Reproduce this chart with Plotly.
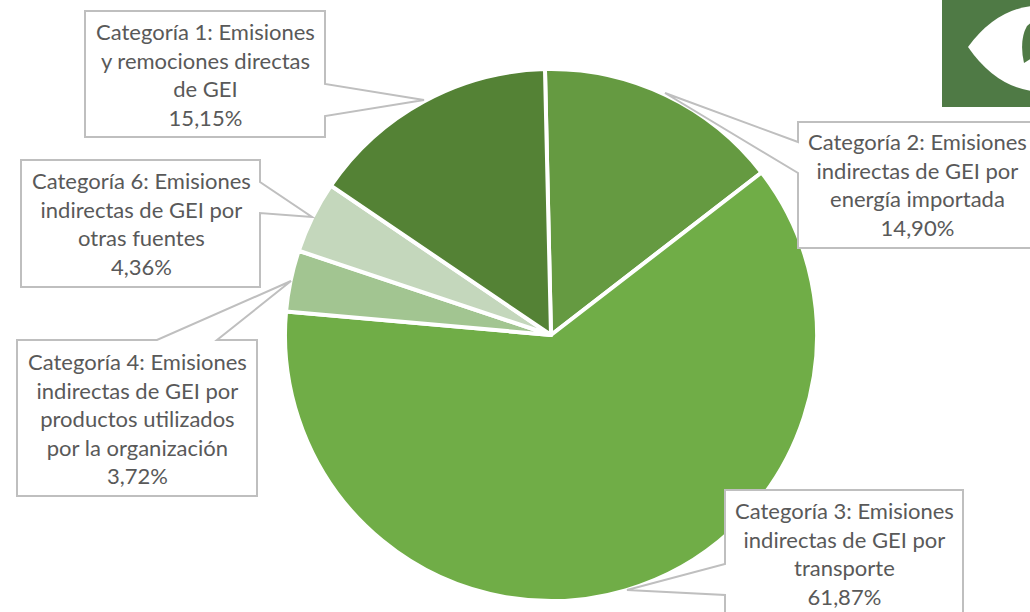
import plotly.graph_objects as go

categories = ["Categoría 2", "Categoría 3", "Categoría 4", "Categoría 6", "Categoría 1"]
values = [14.90, 61.87, 3.72, 4.36, 15.15]
colors = ["#659A41", "#70AD47", "#A2C591", "#C4D7BC", "#548235"]
W, H = 1030, 612
GREY = "#BFBFBF"

callouts = [
    ("Categoría 1: Emisiones<br>y remociones directas<br>de GEI<br>15,15%", 205, 74,
     "M85,11 L325,11 L325,84 L424,100 L325,116 L325,137 L85,137 Z"),
    ("Categoría 6: Emisiones<br>indirectas de GEI por<br>otras fuentes<br>4,36%", 141, 223,
     "M21,160 L260,160 L260,182 L312,217 L260,213 L260,287 L21,287 Z"),
    ("Categoría 4: Emisiones<br>indirectas de GEI por<br>productos utilizados<br>por la organización<br>3,72%", 137, 418,
     "M17,340 L157,340 L291,281 L217,340 L257,340 L257,496 L17,496 Z"),
    ("Categoría 2: Emisiones<br>indirectas de GEI por<br>energía importada<br>14,90%", 917, 184,
     "M798,122 L1034,122 L1034,248 L798,248 L798,173 L665,93 L798,142 Z"),
    ("Categoría 3: Emisiones<br>indirectas de GEI por<br>transporte<br>61,87%", 844, 553,
     "M725,490 L963,490 L963,640 L725,640 L725,595 L627,590 L725,564 Z"),
]

fig = go.Figure(go.Pie(
    labels=categories, values=values, sort=False, direction="clockwise", rotation=-1.3,
    marker=dict(colors=colors, line=dict(color="white", width=4)),
    textinfo="none", hoverinfo="label+percent", showlegend=False,
    domain=dict(x=[285 / W, 817 / W], y=[(H - 601) / H, (H - 69) / H]),
))

shapes = [
    dict(type="rect", xref="x", yref="y", x0=942, x1=1032, y0=0, y1=107,
         fillcolor="#4F7A45", line_width=0, layer="below"),
    dict(type="path", xref="x", yref="y", layer="below", fillcolor="white", line_width=0,
         path="M968,47 Q995,10 1032,6 L1032,91 Q995,86 968,47 Z"),
    dict(type="path", xref="x", yref="y", layer="below", fillcolor="#4F7A45", line_width=0,
         path="M1024,63 Q1019,40 1027,26 L1032,22 L1032,58 Z"),
]
annotations = []
for text, cx, cy, path in callouts:
    shapes.append(dict(type="path", xref="x", yref="y", layer="above", path=path,
                       fillcolor="white", line=dict(color=GREY, width=2)))
    annotations.append(dict(text=text, x=cx, y=cy, xref="x", yref="y", showarrow=False,
                            align="center", xanchor="center", yanchor="middle",
                            font=dict(family="Lato", size=22, color="#595959")))

fig.update_layout(
    width=W, height=H, margin=dict(l=0, r=0, t=0, b=0), paper_bgcolor="white", plot_bgcolor="rgba(0,0,0,0)",
    xaxis=dict(range=[0, W], visible=False, fixedrange=True),
    yaxis=dict(range=[H, 0], visible=False, fixedrange=True),
    shapes=shapes, annotations=annotations,
)
fig.write_html("out.html", config={"displayModeBar": False}, post_script="document.body.style.margin='0';")
